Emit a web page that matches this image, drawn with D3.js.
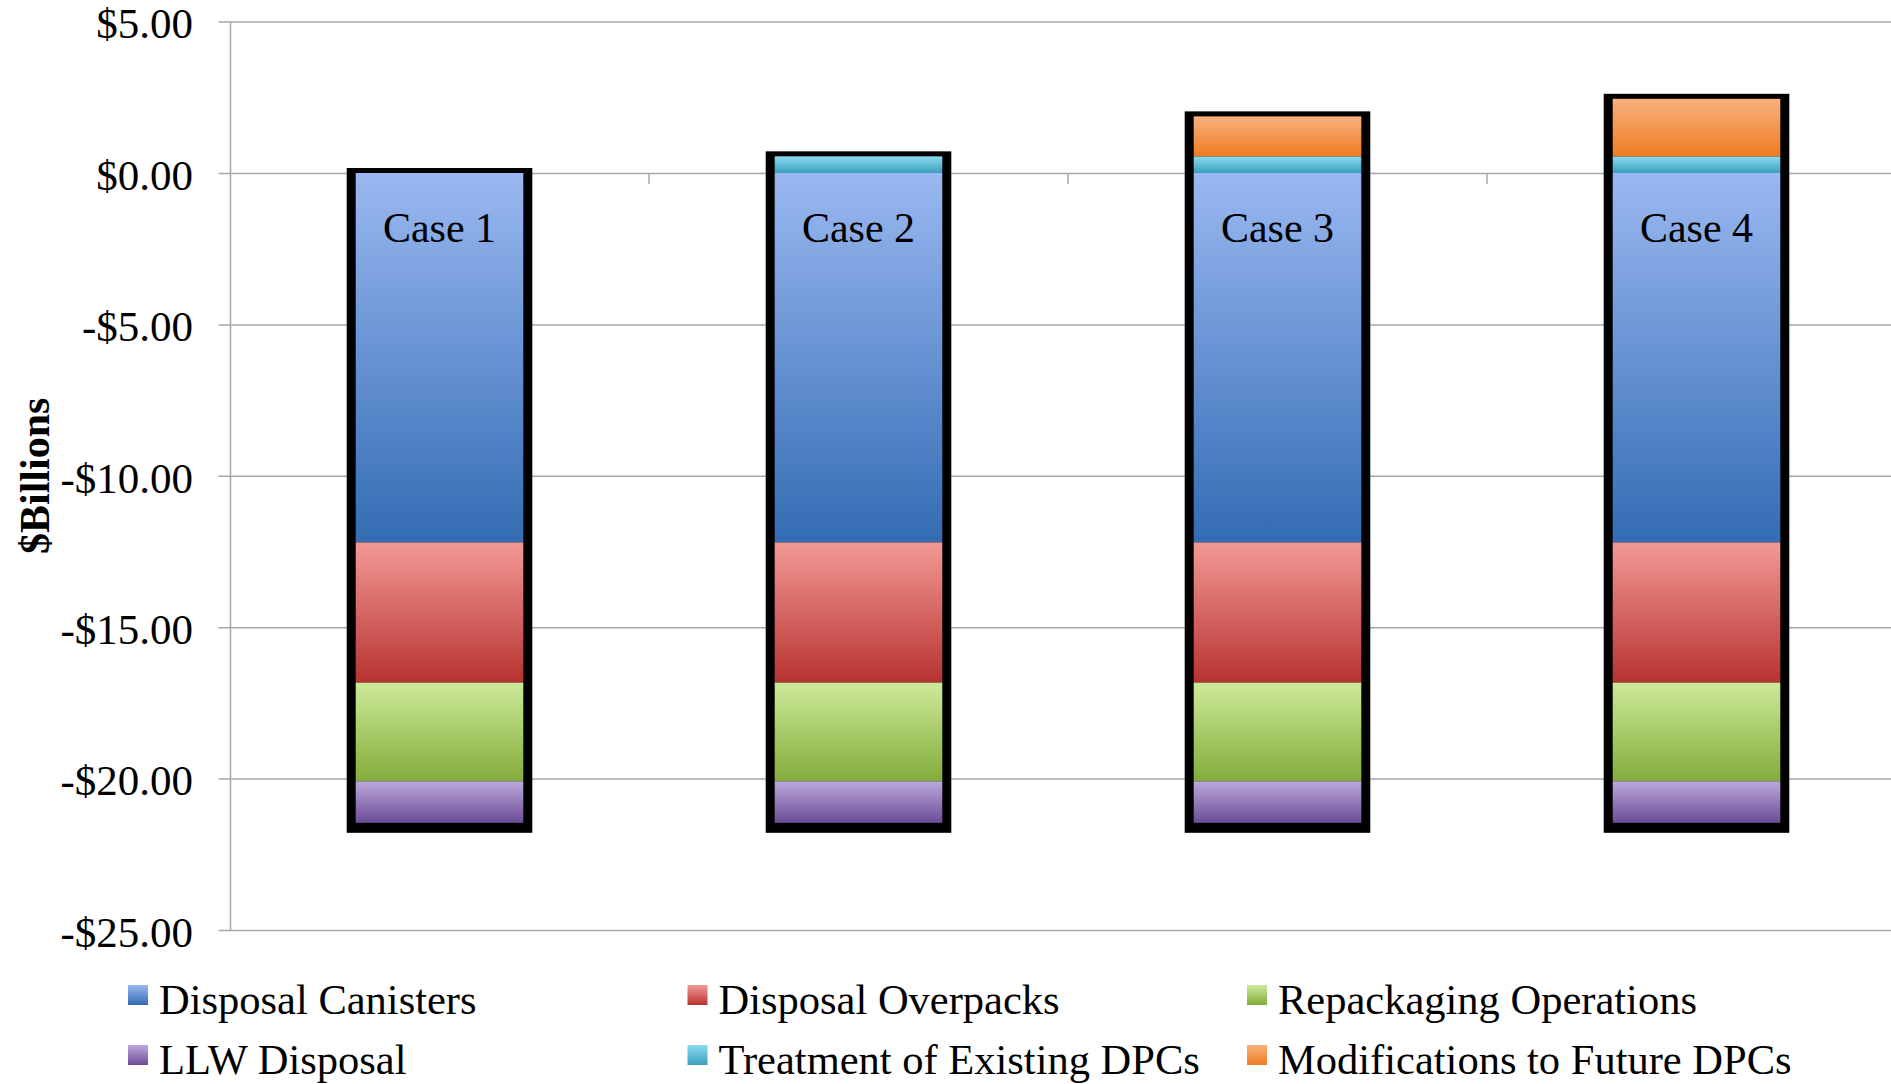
<!DOCTYPE html>
<html>
<head>
<meta charset="utf-8">
<script src="https://cdnjs.cloudflare.com/ajax/libs/d3/7.8.5/d3.min.js"></script>
<style>
	body { margin: 0; background: #fff; }
	svg { display: block; }
	text { font-family: "Liberation Serif", "Times New Roman", serif; fill: #000; }
</style>
</head>
<body>
<svg id="chart"></svg>
<script>
// values, $ billions
var cases = ["Case 1", "Case 2", "Case 3", "Case 4"];
var seriesNames = ["Disposal Canisters", "Disposal Overpacks", "Repackaging Operations",
	"LLW Disposal", "Treatment of Existing DPCs", "Modifications to Future DPCs"];
var disposalCanisters = [-12.2, -12.2, -12.2, -12.2];
var disposalOverpacks = [-4.63, -4.63, -4.63, -4.63];
var repackagingOperations = [-3.26, -3.26, -3.26, -3.26];
var llwDisposal = [-1.37, -1.37, -1.37, -1.37];
var treatmentExistingDPCs = [0, 0.55, 0.55, 0.55];
var modificationsFutureDPCs = [0, 0, 1.32, 1.9];
var yTicks = [5, 0, -5, -10, -15, -20, -25];

// light (top) and dark (bottom) colour of each series gradient
var gradColors = [
	["#9ab8f1", "#336cb3"],
	["#f39995", "#b73331"],
	["#cdea99", "#82ac3a"],
	["#bca9de", "#6c4c96"],
	["#8bdaf0", "#3a9fbd"],
	["#f8b17f", "#ee7c21"]
];

var width = 1891, height = 1084;
var margin = {left: 230, top: 21.6, bottom: 930};

var svg = d3.select("#chart")
	.attr("width", width)
	.attr("height", height);

var seriesValues = [disposalCanisters, disposalOverpacks, repackagingOperations,
	llwDisposal, treatmentExistingDPCs, modificationsFutureDPCs];

var rows = cases.map(function(c, i){
	var row = {case: c};
	seriesNames.forEach(function(s, j){ row[s] = seriesValues[j][i]; });
	return row;
});

var stacked = d3.stack()
	.keys(seriesNames)
	.offset(d3.stackOffsetDiverging)(rows);

// band step is 419px, the plot runs past the right edge of the picture
var x = d3.scaleBand()
	.domain(cases)
	.range([margin.left, margin.left + 4 * 419])
	.paddingInner(0.6)
	.paddingOuter(0.3);

var y = d3.scaleLinear()
	.domain([-25, 5])
	.range([margin.bottom, margin.top]);

var defs = svg.append("defs");
gradColors.forEach(function(c, i){
	var g = defs.append("linearGradient")
		.attr("id", "grad" + i)
		.attr("x1", 0).attr("y1", 0)
		.attr("x2", 0).attr("y2", 1);
	g.append("stop").attr("offset", "0%").attr("stop-color", c[0]);
	g.append("stop").attr("offset", "100%").attr("stop-color", c[1]);
});

// gridlines + y axis
var yAxis = svg.append("g")
	.attr("transform", "translate(" + margin.left + ",0)")
	.call(d3.axisLeft(y)
		.tickValues(yTicks)
		.tickSize(-(width - margin.left))
		.tickSizeOuter(0)
		.tickPadding(37)
		.tickFormat(function(d){
			return (d < 0 ? "-$" : "$") + Math.abs(d).toFixed(2);
		}));
yAxis.select(".domain").attr("stroke", "#a6a6a6").attr("stroke-width", 1.5);
yAxis.selectAll(".tick line")
	.attr("x1", -11.5)
	.attr("stroke", "#a6a6a6")
	.attr("stroke-width", 1.5);
yAxis.selectAll(".tick text")
	.attr("dy", "0.38em")
	.style("font-size", "43px")
	.style("font-family", "'Liberation Serif', 'Times New Roman', serif");

// category ticks on the zero line
var boundaries = [0, 1, 2, 3, 4].map(function(i){ return margin.left + i * x.step(); });
svg.append("g").selectAll("line")
	.data(boundaries.slice(1))
	.enter()
	.append("line")
	.attr("x1", function(d){ return d; })
	.attr("x2", function(d){ return d; })
	.attr("y1", y(0))
	.attr("y2", y(0) + 11)
	.attr("stroke", "#a6a6a6")
	.attr("stroke-width", 1.5);

// black frame behind each stack
svg.append("g").selectAll("rect")
	.data(rows)
	.enter()
	.append("rect")
	.attr("x", function(d){ return x(d.case) - 9; })
	.attr("width", x.bandwidth() + 18)
	.attr("y", function(d, i){
		var top = d3.max(stacked, function(s){ return s[i][1]; });
		return y(top) - 5;
	})
	.attr("height", function(d, i){
		var top = d3.max(stacked, function(s){ return s[i][1]; });
		var bottom = d3.min(stacked, function(s){ return s[i][0]; });
		return y(bottom) - y(top) + 15;
	})
	.attr("fill", "#000");

// stacked segments
svg.append("g").selectAll("g")
	.data(stacked)
	.enter()
	.append("g")
	.attr("fill", function(d, i){ return "url(#grad" + i + ")"; })
	.selectAll("rect")
	.data(function(d){ return d.filter(function(p){ return p[1] !== p[0]; }); })
	.enter()
	.append("rect")
	.attr("x", function(d){ return x(d.data.case); })
	.attr("width", x.bandwidth())
	.attr("y", function(d){ return y(Math.max(d[0], d[1])); })
	.attr("height", function(d){ return Math.abs(y(d[0]) - y(d[1])); });

// case labels inside the bars
svg.append("g").selectAll("text")
	.data(cases)
	.enter()
	.append("text")
	.attr("x", function(d){ return x(d) + x.bandwidth() / 2; })
	.attr("y", y(0) + 69)
	.attr("text-anchor", "middle")
	.style("font-size", "42px")
	.text(function(d){ return d; });

// y title
svg.append("text")
	.attr("transform", "translate(49," + ((margin.top + margin.bottom) / 2) + ") rotate(-90)")
	.attr("text-anchor", "middle")
	.style("font-size", "42px")
	.style("font-weight", "bold")
	.text("$Billions");

// legend, 3 columns x 2 rows
var legend = svg.append("g").selectAll("g")
	.data(seriesNames)
	.enter()
	.append("g")
	.attr("transform", function(d, i){
		var col = i % 3, row = Math.floor(i / 3);
		return "translate(" + (128 + col * 559.5) + "," + (985 + row * 60) + ")";
	});
legend.append("rect")
	.attr("width", 20)
	.attr("height", 20)
	.attr("fill", function(d, i){ return "url(#grad" + i + ")"; });
legend.append("text")
	.attr("x", 31)
	.attr("y", 29)
	.style("font-size", "42.5px")
	.text(function(d){ return d; });
</script>
</body>
</html>
